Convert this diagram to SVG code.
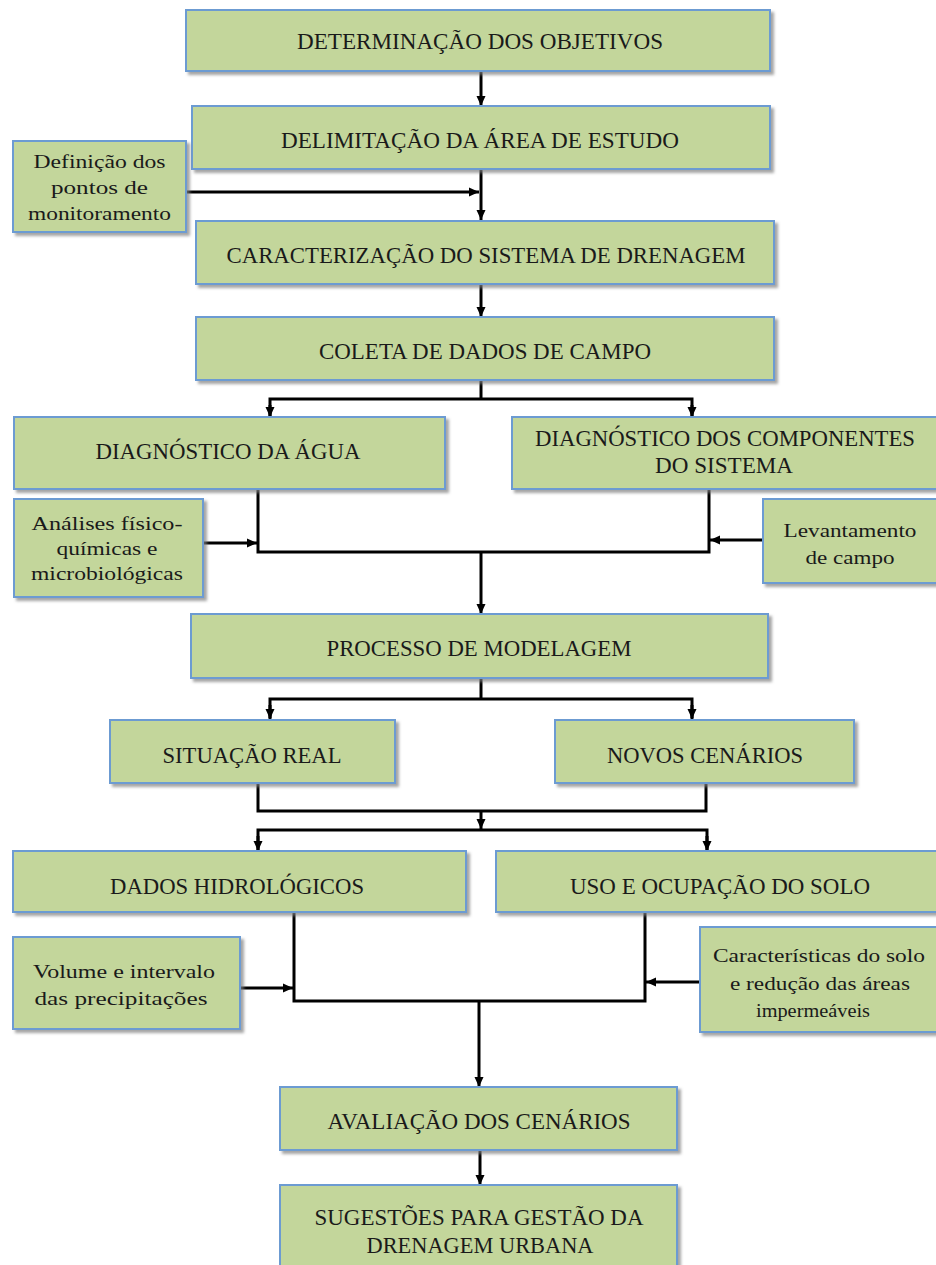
<svg xmlns="http://www.w3.org/2000/svg" width="936" height="1265" viewBox="0 0 936 1265">
<style>
.box{fill:#c3d69b;stroke:#6c9bd2;stroke-width:2;filter:url(#sh)}
.t{font-family:"Liberation Serif","Times New Roman",serif;font-size:23px;fill:#1a1a1a;text-anchor:middle}
.s{font-family:"Liberation Serif","Times New Roman",serif;font-size:19px;fill:#1a1a1a;text-anchor:middle}
.c{fill:none;stroke:#000;stroke-width:3}
.a{marker-end:url(#ah)}
</style>
<defs>
<filter id="sh" x="-5%" y="-10%" width="115%" height="130%">
<feDropShadow dx="3" dy="3" stdDeviation="1.5" flood-color="#7f7f7f" flood-opacity="0.7"/>
</filter>
<marker id="ah" markerUnits="userSpaceOnUse" markerWidth="10" markerHeight="10" refX="10" refY="5" orient="auto">
<path d="M0,0.5 L10,5 L0,9.5 z" fill="#000"/>
</marker>
</defs>

<g id="connectors">
<line class="c a" x1="481" y1="71" x2="481" y2="106"/>
<line class="c a" x1="481" y1="169" x2="481" y2="220"/>
<line class="c a" x1="186" y1="192" x2="479" y2="192"/>
<line class="c a" x1="481" y1="284" x2="481" y2="317"/>
<polyline class="c" points="481,381 481,399"/>
<polyline class="c" points="270,417 270,399 692,399 692,417"/>
<line class="c a" x1="270" y1="405" x2="270" y2="417"/>
<line class="c a" x1="692" y1="405" x2="692" y2="417"/>
<polyline class="c" points="258,489 258,552 709,552 709,489"/>
<line class="c a" x1="203" y1="543" x2="257" y2="543"/>
<line class="c a" x1="763" y1="540" x2="710" y2="540"/>
<line class="c a" x1="481" y1="552" x2="481" y2="614"/>
<polyline class="c" points="481,678 481,699"/>
<polyline class="c" points="270,718 270,699 692,699 692,718"/>
<line class="c a" x1="270" y1="705" x2="270" y2="719"/>
<line class="c a" x1="692" y1="705" x2="692" y2="719"/>
<polyline class="c" points="258,783 258,811 706,811 706,783"/>
<line class="c a" x1="481" y1="811" x2="481" y2="829"/>
<polyline class="c" points="258,850 258,830 707,830 707,850"/>
<line class="c a" x1="258" y1="836" x2="258" y2="851"/>
<line class="c a" x1="707" y1="836" x2="707" y2="851"/>
<polyline class="c" points="294,912 294,1001 645,1001 645,912"/>
<line class="c a" x1="240" y1="988" x2="293" y2="988"/>
<line class="c a" x1="700" y1="982" x2="646" y2="982"/>
<line class="c a" x1="479" y1="1001" x2="479" y2="1087"/>
<line class="c a" x1="480" y1="1150" x2="480" y2="1185"/>
</g>

<g id="n1"><rect class="box" x="186" y="10" width="584" height="61"/>
<text class="t" x="480" y="49" textLength="366" lengthAdjust="spacingAndGlyphs">DETERMINAÇÃO DOS OBJETIVOS</text></g>

<g id="n2"><rect class="box" x="192" y="106" width="578" height="63"/>
<text class="t" x="480" y="148" textLength="398" lengthAdjust="spacingAndGlyphs">DELIMITAÇÃO DA ÁREA DE ESTUDO</text></g>

<g id="n3"><rect class="box" x="13" y="141" width="173" height="91"/>
<text class="s" x="99.5" y="168" textLength="132" lengthAdjust="spacingAndGlyphs">Definição dos</text>
<text class="s" x="99.5" y="194" textLength="97" lengthAdjust="spacingAndGlyphs">pontos de</text>
<text class="s" x="99.5" y="220" textLength="143" lengthAdjust="spacingAndGlyphs">monitoramento</text></g>

<g id="n4"><rect class="box" x="196" y="221" width="578" height="63"/>
<text class="t" x="486" y="263" textLength="519" lengthAdjust="spacingAndGlyphs">CARACTERIZAÇÃO DO SISTEMA DE DRENAGEM</text></g>

<g id="n5"><rect class="box" x="196" y="317" width="578" height="63"/>
<text class="t" x="485" y="359" textLength="332" lengthAdjust="spacingAndGlyphs">COLETA DE DADOS DE CAMPO</text></g>

<g id="n6"><rect class="box" x="14" y="417" width="431" height="72"/>
<text class="t" x="228" y="459" textLength="265" lengthAdjust="spacingAndGlyphs">DIAGNÓSTICO DA ÁGUA</text></g>

<g id="n7"><rect class="box" x="512" y="417" width="432" height="72"/>
<text class="t" x="725" y="446" textLength="380" lengthAdjust="spacingAndGlyphs">DIAGNÓSTICO DOS COMPONENTES</text>
<text class="t" x="724" y="473" textLength="138" lengthAdjust="spacingAndGlyphs">DO SISTEMA</text></g>

<g id="n8"><rect class="box" x="14" y="499" width="189" height="98"/>
<text class="s" x="107" y="530" textLength="151" lengthAdjust="spacingAndGlyphs">Análises físico-</text>
<text class="s" x="107" y="555" textLength="101" lengthAdjust="spacingAndGlyphs">químicas e</text>
<text class="s" x="107" y="580" textLength="152" lengthAdjust="spacingAndGlyphs">microbiológicas</text></g>

<g id="n9"><rect class="box" x="763" y="499" width="180" height="84"/>
<text class="s" x="850" y="537" textLength="133" lengthAdjust="spacingAndGlyphs">Levantamento</text>
<text class="s" x="850" y="564" textLength="89" lengthAdjust="spacingAndGlyphs">de campo</text></g>

<g id="n10"><rect class="box" x="191" y="614" width="577" height="64"/>
<text class="t" x="479" y="656" textLength="305" lengthAdjust="spacingAndGlyphs">PROCESSO DE MODELAGEM</text></g>

<g id="n11"><rect class="box" x="110" y="720" width="285" height="63"/>
<text class="t" x="252" y="763" textLength="179" lengthAdjust="spacingAndGlyphs">SITUAÇÃO REAL</text></g>

<g id="n12"><rect class="box" x="555" y="720" width="299" height="63"/>
<text class="t" x="705" y="763" textLength="196" lengthAdjust="spacingAndGlyphs">NOVOS CENÁRIOS</text></g>

<g id="n13"><rect class="box" x="13" y="851" width="453" height="61"/>
<text class="t" x="237" y="894" textLength="254" lengthAdjust="spacingAndGlyphs">DADOS HIDROLÓGICOS</text></g>

<g id="n14"><rect class="box" x="496" y="851" width="448" height="61"/>
<text class="t" x="720" y="894" textLength="300" lengthAdjust="spacingAndGlyphs">USO E OCUPAÇÃO DO SOLO</text></g>

<g id="n15"><rect class="box" x="13" y="937" width="227" height="92"/>
<text class="s" x="124" y="978" textLength="182" lengthAdjust="spacingAndGlyphs">Volume e intervalo</text>
<text class="s" x="121" y="1005" textLength="173" lengthAdjust="spacingAndGlyphs">das precipitações</text></g>

<g id="n16"><rect class="box" x="700" y="927" width="244" height="105"/>
<text class="s" x="819" y="962" textLength="212" lengthAdjust="spacingAndGlyphs">Características do solo</text>
<text class="s" x="820" y="990" textLength="180" lengthAdjust="spacingAndGlyphs">e redução das áreas</text>
<text class="s" x="813" y="1017" textLength="114" lengthAdjust="spacingAndGlyphs">impermeáveis</text></g>

<g id="n17"><rect class="box" x="280" y="1087" width="397" height="63"/>
<text class="t" x="479" y="1129" textLength="303" lengthAdjust="spacingAndGlyphs">AVALIAÇÃO DOS CENÁRIOS</text></g>

<g id="n18"><rect class="box" x="280" y="1185" width="397" height="90"/>
<text class="t" x="479" y="1225" textLength="329" lengthAdjust="spacingAndGlyphs">SUGESTÕES PARA GESTÃO DA</text>
<text class="t" x="480" y="1253" textLength="227" lengthAdjust="spacingAndGlyphs">DRENAGEM URBANA</text></g>
</svg>
